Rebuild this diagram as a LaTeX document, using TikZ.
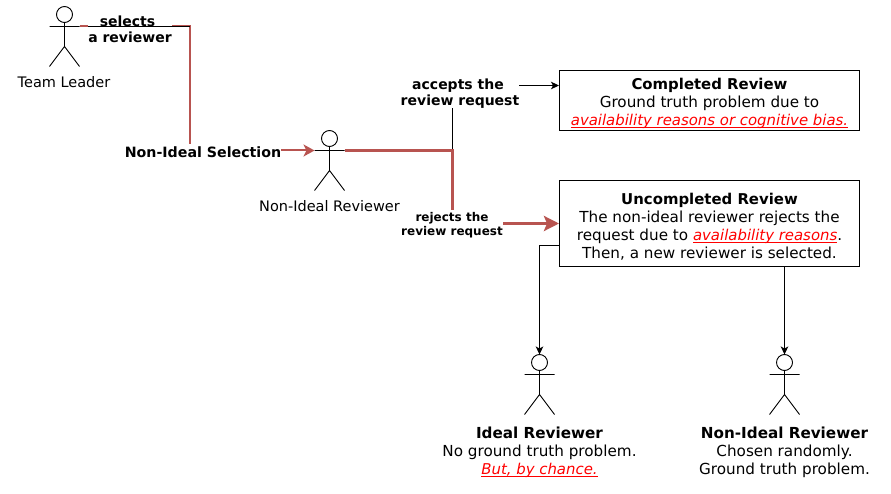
\documentclass[tikz,border=0pt]{standalone}
\usepackage{fontspec}
\setmainfont{DejaVu Sans}
\usetikzlibrary{arrows.meta}
\definecolor{hot}{HTML}{B85450}
\newsavebox{\ulbox}
\newcommand{\redem}[1]{\sbox{\ulbox}{\color{red}\fontsize{14.9}{18}\selectfont\textit{#1}}{\color{red}\rlap{\rule[-2.2pt]{\wd\ulbox}{0.9pt}}}\usebox{\ulbox}}
\newcommand{\boxhead}[1]{{\rule{0pt}{18pt}\fontsize{14.9}{18}\selectfont\textbf{#1}}}
\tikzset{
  x=1pt,y=-1pt,
  txt/.style={inner sep=0pt,align=center,font=\fontsize{14.5}{18}\selectfont},
  body/.style={inner sep=0pt,align=center,font=\fontsize{15.2}{18}\selectfont},
  lbl/.style={inner sep=0pt,align=center,font=\fontsize{14}{16}\selectfont\bfseries},
  smalllbl/.style={inner sep=0pt,align=center,font=\fontsize{12}{14}\selectfont\bfseries},
  boxed/.style={draw=black,line width=1pt,minimum width=300pt,inner sep=0pt,align=center,font=\fontsize{15.2}{18}\selectfont},
  plain/.style={draw=black,line width=1pt},
  hotline/.style={draw=hot,line width=2pt},
  hotthick/.style={draw=hot,line width=3.2pt},
  tip/.style={-{Stealth[length=8pt,width=7.5pt,inset=2pt]}},
  hottip/.style={-{Stealth[length=11pt,width=12pt,inset=3pt]}},
  bigtip/.style={-{Stealth[length=15pt,width=15pt,inset=3pt]}},
  actor/.pic={
    \draw[line width=.9pt] (0,-12) circle[radius=8];
    \draw[line width=.9pt] (0,-4) -- (0,20) (-15,0) -- (15,0) (-15,40) -- (0,20) -- (15,40);
    \coordinate (-left) at (-15,0);
    \coordinate (-right) at (15,0);
    \coordinate (-top) at (0,-20);
  }
}
\begin{document}
\begin{tikzpicture}
\useasboundingbox (0,0) rectangle (891,494);
\fill[white] (0,0) rectangle (891,494);

\pic (tl) at (64.5,26.5) {actor};
\pic (nr) at (329.5,150.5) {actor};
\pic (ir) at (539.5,374.5) {actor};
\pic (nb) at (784.5,374.5) {actor};

\node[txt] (tlname) at (64,82) {Team Leader};
\node[txt] (nrname) at (329.5,206) {Non-Ideal Reviewer};

\node[lbl,font=\fontsize{14.2}{18}\selectfont\bfseries] (nis) at (203,152) {Non-Ideal Selection};
\node[lbl] (acc) at (460,93.5) {accepts the\hspace*{4pt}\\review request};
\node[smalllbl] (rej) at (452,225) {rejects the\\review request};

\node[boxed,minimum height=60pt] (done) at (709.5,100.5) {\boxhead{Completed Review}\\Ground truth problem due to\hspace*{5pt}\\\redem{availability reasons or cognitive bias.}};
\node[boxed,minimum height=86pt] (undone) at (709.5,223.5) {\boxhead{Uncompleted Review}\\The non-ideal reviewer rejects the\\request due to \redem{availability reasons}.\\Then, a new reviewer is selected.};

\node[body] (irtext) at (539.5,452) {\textbf{Ideal Reviewer}\\No ground truth problem.\\\redem{But, by chance.}};
\node[body] (nbtext) at (784.5,452) {\textbf{Non-Ideal Reviewer}\\Chosen randomly.\\Ground truth problem.};

\coordinate (corner1) at (189.5,26.5);
\coordinate (corner2) at (452.5,150.5);
\coordinate (rejtop) at (452.5,210);
\coordinate (acctop) at (452.5,108);
\coordinate (nisup) at (189.5,144);
\coordinate (seltail) at (172,26.5);
\coordinate (selhead) at (88,26.5);
\coordinate (accfrom) at (519,85.5);
\coordinate (rejfrom) at (503,223.5);
\coordinate (bl) at (559.5,245.5);
\coordinate (bl2) at (539.5,245.5);

\draw[hotline] (seltail) -- (corner1) -- (nisup);
\draw[plain] (tl-right) -- (corner1);
\draw[hotline] (tl-right) -- (selhead);
\node[lbl] (sel) at (130,29) {selects\hspace*{5pt}\\a reviewer};

\draw[hotline,hottip] (nis.east |- nr-left) -- (nr-left);
\draw[plain] (corner2) -- (acctop);
\draw[plain,tip] (accfrom) -- (accfrom -| done.west);
\draw[hotthick] (nr-right) -- (corner2) -- (rejtop);
\draw[hotthick,bigtip] (rejfrom) -- (undone.west);
\draw[plain,tip] (bl) -- (bl2) -- (ir-top);
\draw[plain,tip] (undone.south -| nb-top) -- (nb-top);
\end{tikzpicture}
\end{document}
